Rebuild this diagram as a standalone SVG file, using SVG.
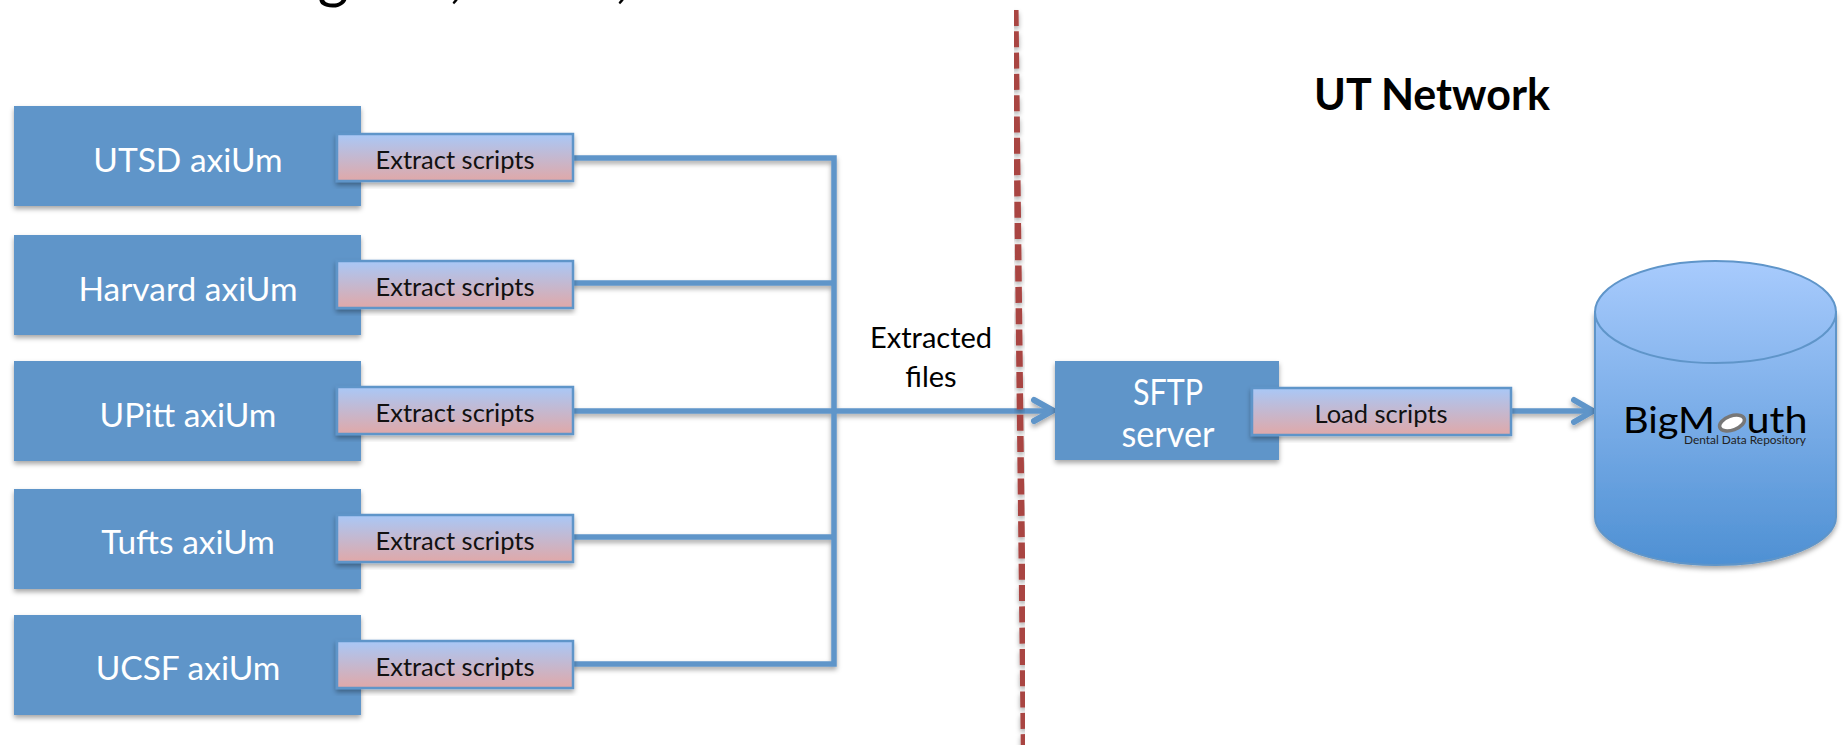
<svg xmlns="http://www.w3.org/2000/svg" width="1844" height="745" viewBox="0 0 1844 745">
<style>
text{font-family:"Lato","Liberation Sans",sans-serif;text-anchor:middle}
.box{fill:#5f95c9;filter:url(#sh)}
.scr{fill:url(#sg);stroke:#5f95c9;stroke-width:2.5;filter:url(#sh)}
.bl{fill:#fff;font-size:33.500px}
.sl{fill:#111;font-size:25.500px}
.con{fill:none;stroke:#5f95c9;stroke-width:5.500;stroke-linecap:square}
.arr{fill:none;stroke:#5f95c9;stroke-width:6;stroke-linecap:round;stroke-linejoin:miter}
</style>
<defs>
<linearGradient id="sg" x1="0" y1="0" x2="0" y2="1"><stop offset="0" stop-color="#a9c8f7"/><stop offset="1" stop-color="#e0a8a8"/></linearGradient>
<linearGradient id="cg" gradientUnits="userSpaceOnUse" x1="0" y1="261" x2="0" y2="565"><stop offset="0" stop-color="#a8cbfd"/><stop offset="1" stop-color="#4e90d3"/></linearGradient>
<filter id="sh" x="-10%" y="-10%" width="120%" height="125%"><feDropShadow dx="0" dy="3" stdDeviation="2.500" flood-color="#000" flood-opacity="0.35"/></filter>
</defs>
<g id="title"><text x="333" y="-3" font-size="60" fill="#000">g</text><text x="456" y="-4" font-size="60" fill="#000">,</text><text x="622" y="-4" font-size="60" fill="#000">,</text></g>
<g id="connectors" filter="url(#sh)">
<path class="con" d="M573 158H834M573 283H834M573 411H1050M573 537H834M573 664H834M834 158V664M1511 411H1590"/>
<path class="arr" d="M1034 400L1053 410.500L1034 421M1574 400L1593 411L1574 422"/>
</g>
<g id="divider"><path d="M1015.300 10L1024 745" fill="none" stroke="#a94442" stroke-width="6.500" stroke-dasharray="16 5.300" filter="url(#sh)"/></g>
<g id="utsd"><rect class="box" x="14" y="106" width="347" height="100"/><text class="bl" x="188" y="172">UTSD axiUm</text></g>
<g id="utsd-s"><rect class="scr" x="337" y="134" width="236" height="47"/><text class="sl" x="455" y="169">Extract scripts</text></g>
<g id="harvard"><rect class="box" x="14" y="235" width="347" height="100"/><text class="bl" x="188" y="301">Harvard axiUm</text></g>
<g id="harvard-s"><rect class="scr" x="337" y="261" width="236" height="47"/><text class="sl" x="455" y="296">Extract scripts</text></g>
<g id="upitt"><rect class="box" x="14" y="361" width="347" height="100"/><text class="bl" x="188" y="427">UPitt axiUm</text></g>
<g id="upitt-s"><rect class="scr" x="337" y="387" width="236" height="47"/><text class="sl" x="455" y="422">Extract scripts</text></g>
<g id="tufts"><rect class="box" x="14" y="489" width="347" height="100"/><text class="bl" x="188" y="554">Tufts axiUm</text></g>
<g id="tufts-s"><rect class="scr" x="337" y="515" width="236" height="47"/><text class="sl" x="455" y="550">Extract scripts</text></g>
<g id="ucsf"><rect class="box" x="14" y="615" width="347" height="100"/><text class="bl" x="188" y="680">UCSF axiUm</text></g>
<g id="ucsf-s"><rect class="scr" x="337" y="641" width="236" height="47"/><text class="sl" x="455" y="676">Extract scripts</text></g>
<g id="label"><text x="931" y="348" font-size="29" fill="#000">Extracted</text><text x="931" y="387" font-size="29" fill="#000">files</text></g>
<g id="sftp"><rect class="box" x="1055" y="361" width="224" height="99"/><text class="bl" x="1168" y="405" style="font-size:36px" textLength="70" lengthAdjust="spacingAndGlyphs">SFTP</text><text class="bl" x="1168" y="447" style="font-size:36px" textLength="93" lengthAdjust="spacingAndGlyphs">server</text></g>
<g id="load"><rect class="scr" x="1252" y="388" width="259" height="47"/><text class="sl" x="1381" y="423">Load scripts</text></g>
<g id="bigmouth">
<path d="M1595 312V517A120.500 48 0 0 0 1836 517V312Z" fill="url(#cg)" stroke="#5f95c9" stroke-width="2" filter="url(#sh)"/>
<path d="M1595 312A120.500 51 0 0 1 1836 312A120.500 51 0 0 1 1595 312Z" fill="url(#cg)" stroke="#5f95c9" stroke-width="2"/>
<text x="1669" y="433" font-size="36" fill="#000" textLength="92" lengthAdjust="spacingAndGlyphs">BigM</text>
<ellipse cx="1732" cy="423" rx="13" ry="7" fill="#fff" stroke="#777" stroke-width="3.500" transform="rotate(-20 1732 423)"/>
<text x="1777" y="433" font-size="36" fill="#000" textLength="61" lengthAdjust="spacingAndGlyphs">uth</text>
<text x="1745" y="444" font-size="11.500" fill="#222" textLength="122" lengthAdjust="spacingAndGlyphs">Dental Data Repository</text>
</g>
<g id="network"><text x="1432" y="110" font-size="43" font-weight="700" fill="#000">UT Network</text></g>
</svg>
